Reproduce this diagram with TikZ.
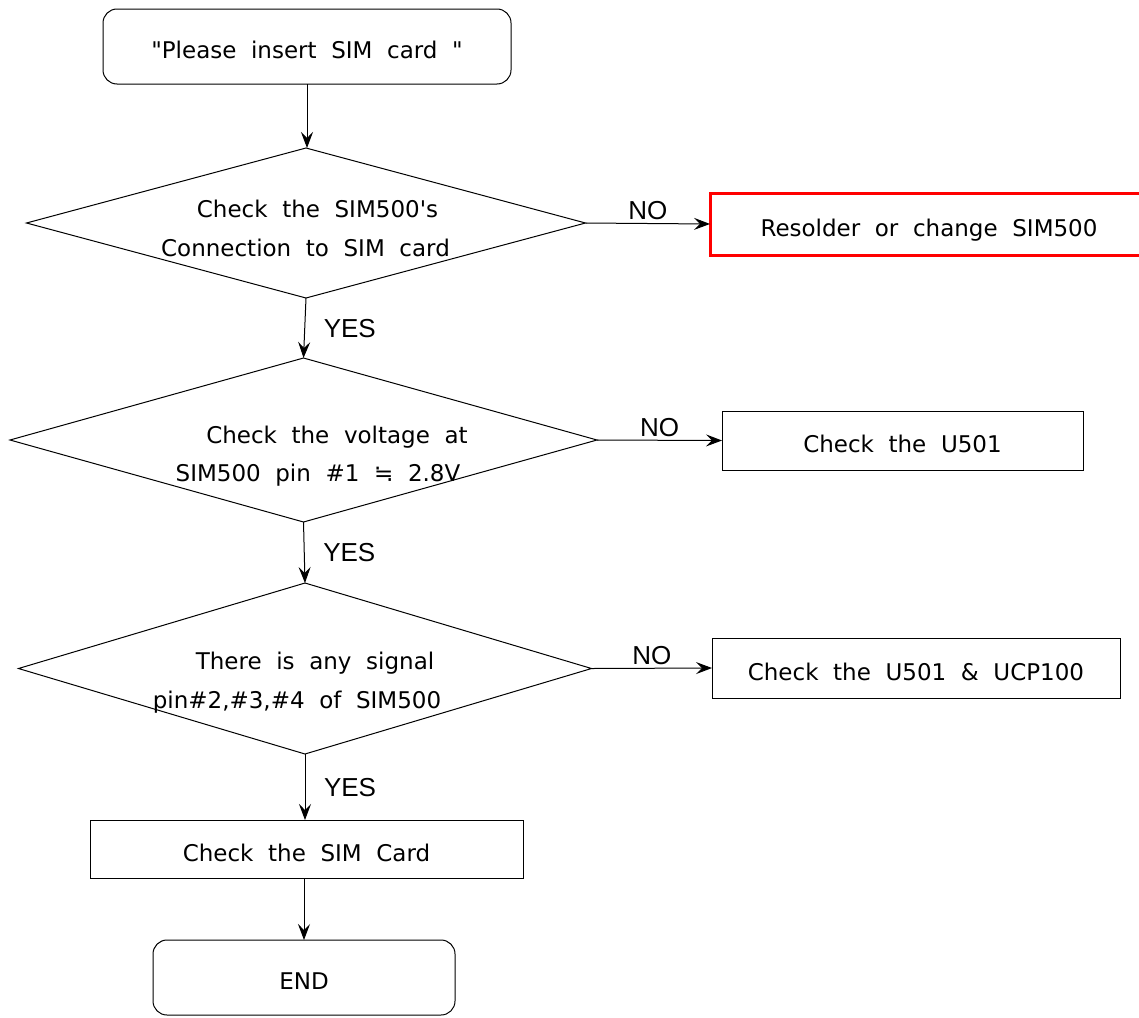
\documentclass[tikz,border=0pt]{standalone}
\usepackage{fontspec}
\setmainfont{DejaVu Sans}[WordSpace=2.0, Ligatures=TeXOff]
\newfontfamily\lblfont{Liberation Sans}
\usetikzlibrary{shapes.geometric,arrows.meta}

\begin{document}
\begin{tikzpicture}[x=1pt, y=-1pt, line width=1pt,
    every node/.style = {font=\fontsize{23}{27}\selectfont,
      text height=17pt, text depth=4pt, inner sep=0pt, outer sep=0pt},
    terminal/.style = {draw, rounded corners=14pt, minimum height=75pt,
      text height=28pt},
    process/.style = {draw, minimum height=#1, text height=28pt},
    decision/.style = {draw, shape=diamond},
    redbox/.style = {draw=red, line width=3pt, minimum height=62pt,
      text height=28pt},
    nolbl/.style = {above, font=\lblfont\fontsize{26}{30}\selectfont,
      text height=18pt, text depth=0pt, inner sep=4pt},
    yeslbl/.style = {right, xshift=19pt, font=\lblfont\fontsize{26}{30}\selectfont,
      text height=18pt, text depth=0pt},
    arrow/.style = {-{Stealth[length=16pt, width=12pt, inset=6pt]}}]
    \clip (0,0) rectangle (1139,1017);
    \fill[white] (0,0) rectangle (1139,1017);

    \node[terminal, minimum width=408pt] (start) at (307,46.5) {"Please insert SIM card "};

    \node[decision, minimum width=559pt, minimum height=150pt] (conn) at (306,223) {};
    \node (conna) at (317.5,211) {Check the SIM500's};
    \node (connb) at (305.5,250) {Connection to SIM card};
    \node[redbox, minimum width=438pt] (resolder) at (929,224) {Resolder or change SIM500};

    \node[decision, minimum width=587pt, minimum height=164pt] (volt) at (303.5,440) {};
    \node (volta) at (337,437) {Check the voltage at};
    \node (voltb) at (318,475) {SIM500 pin \#1 ≒ 2.8V};
    \node[process=59pt, minimum width=361pt] (u501) at (902.5,440.5) {Check the U501};

    \node[decision, minimum width=573pt, minimum height=171pt] (sig) at (305,668.5) {};
    \node (siga) at (315,663) {There is any signal};
    \node (sigb) at (297,702) {pin\#2,\#3,\#4 of SIM500};
    \node[process=60pt, minimum width=408pt] (ucp) at (916,668) {Check the U501 \& UCP100};

    \node[process=58pt, minimum width=433pt] (card) at (306.5,849) {Check the SIM Card};
    \node[terminal, minimum width=302pt] (end) at (304,977.5) {END};

    \draw[arrow] (start.south) -- (start.south |- conn.north);
    \draw[arrow] (conn.east) -- node[nolbl] {NO} (resolder.west);
    \draw[arrow] (conn.south) -- node[yeslbl] {YES} (volt.north);
    \draw[arrow] (volt.east) -- node[nolbl] {NO} (u501.west);
    \draw[arrow] (volt.south) -- node[yeslbl] {YES} (sig.north);
    \draw[arrow] (sig.east) -- node[nolbl] {NO} (ucp.west);
    \draw[arrow] (sig.south) -- node[yeslbl] {YES} (sig.south |- card.north);
    \draw[arrow] (end.north |- card.south) -- (end.north);
\end{tikzpicture}
\end{document}
